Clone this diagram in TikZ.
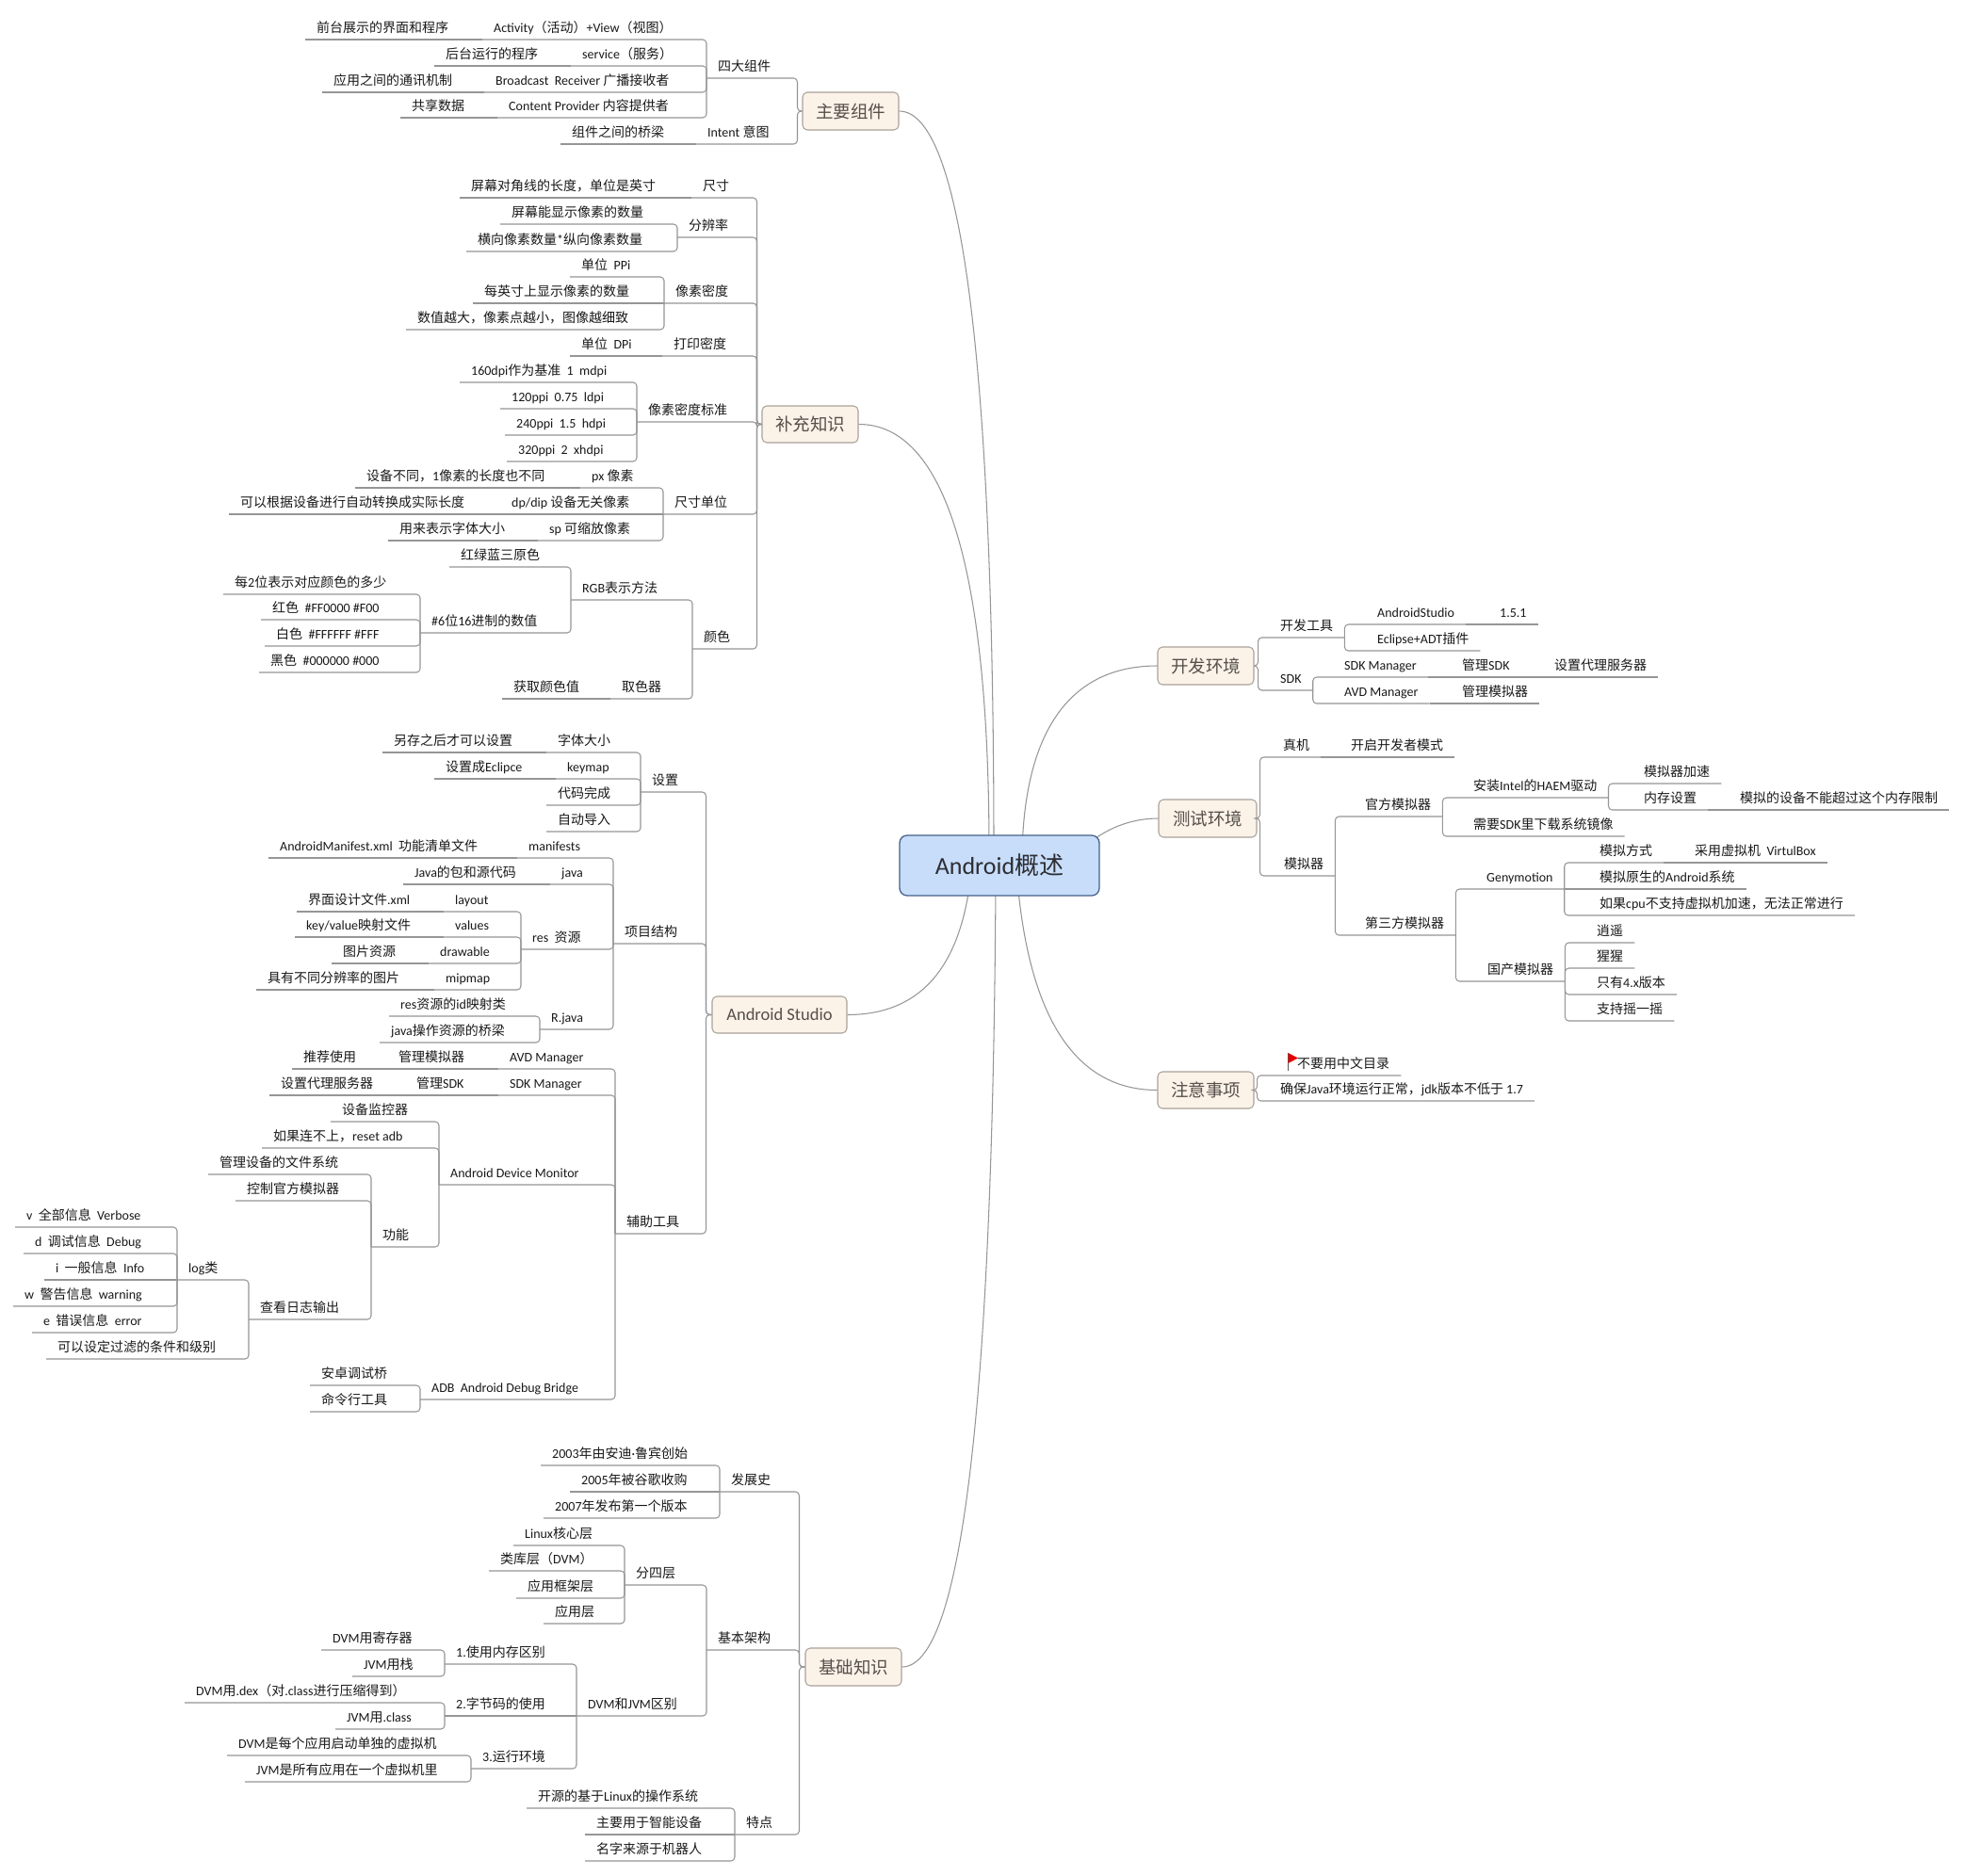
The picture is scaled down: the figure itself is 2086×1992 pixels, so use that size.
\documentclass[tikz,border=0pt]{standalone}
\usepackage{fontspec}
\setmainfont{Carlito}
\newfontfamily\cjkfont{Noto Sans CJK SC}
\newfontfamily\latfont{Carlito}
\newXeTeXintercharclass\CJKcls
\newcount\cjkcc
\def\cjkrange#1#2{\cjkcc=#1\relax\loop\XeTeXcharclass\cjkcc=\CJKcls\relax\advance\cjkcc by 1\relax\ifnum\cjkcc<#2\relax\repeat}
\cjkrange{"3000}{"3040}
\cjkrange{"4E00}{"A000}
\cjkrange{"FF00}{"FFF0}
\XeTeXinterchartoks 0 \CJKcls = {\cjkfont}
\XeTeXinterchartoks 4095 \CJKcls = {\cjkfont}
\XeTeXinterchartoks \CJKcls 0 = {\latfont}
\XeTeXinterchartoks \CJKcls 4095 = {\latfont}
\XeTeXinterchartokenstate=1
\definecolor{lncol}{RGB}{150,150,150}
\definecolor{txtcol}{RGB}{25,25,25}
\definecolor{boxfill}{RGB}{251,242,232}
\definecolor{boxdraw}{RGB}{170,162,155}
\definecolor{boxtxt}{RGB}{85,80,75}
\definecolor{cfill}{RGB}{199,221,250}
\definecolor{cdraw}{RGB}{70,97,137}
\definecolor{ctxt}{RGB}{45,45,50}
\newcommand\TN[4]{\node[tn] (#1) at (#2-12,#3) {#4};}
\newcommand\EL[2]{\draw[ln] (#1.south west) -- (#1.south west -| #2.south west) -- (#2.south west);}
\newcommand\ES[2]{\draw[ln] (#1.south west) -- (#2.south west);}
\newcommand\ELB[2]{\draw[ln] (#1.south west) -- (#1.south west -| #2vx) -- (#2vx |- #2.west) -- (#2.west);}
\newcommand\ER[2]{\draw[ln] (#2.south east) -- (#2.south east |- #1.south) -- (#1.south east);}
\newcommand\ERS[2]{\draw[ln] (#2.south east) -- (#1.south east);}
\newcommand\ERB[2]{\draw[ln] (#2.east) -- (#2vx |- #2.east) -- (#2vx |- #1.south) -- (#1.south east);}
\begin{document}
\begin{tikzpicture}[x=1pt,y=-1pt,
  ln/.style={draw=lncol, line width=1.05pt, rounded corners=4pt},
  cv/.style={draw=lncol, line width=1.05pt},
  tn/.style={anchor=south west, inner xsep=12pt, inner ysep=0pt, text height=11pt, text depth=7.5pt, font=\fontsize{14}{16}\selectfont, text=txtcol},
  mbox/.style={draw=boxdraw, fill=boxfill, rounded corners=5pt, line width=1.05pt, font=\fontsize{18.5}{22}\selectfont, text=boxtxt, inner sep=0pt}]
\useasboundingbox (0,0) rectangle (2086,1992);
\fill[white] (0,0) rectangle (2086,1992);

% ---------- main topics ----------
\node[mbox, minimum width=102pt, minimum height=40pt] (zy) at (903,118) {主要组件};
\node[mbox, minimum width=102pt, minimum height=39pt] (bc) at (860,450.5) {补充知识};
\node[mbox, minimum width=143pt, minimum height=39pt] (as) at (827.5,1077.5) {Android Studio};
\node[mbox, minimum width=102pt, minimum height=40pt] (jc) at (906,1770) {基础知识};
\node[mbox, minimum width=102pt, minimum height=40pt] (kf) at (1280,707) {开发环境};
\node[mbox, minimum width=104pt, minimum height=40pt] (cs) at (1282,869) {测试环境};
\node[mbox, minimum width=102pt, minimum height=39pt] (zy2) at (1280,1157.5) {注意事项};
\coordinate (zyvx) at ([xshift=-5pt]zy.west);
\coordinate (bcvx) at ([xshift=-5pt]bc.west);
\coordinate (asvx) at ([xshift=-6pt]as.west);
\coordinate (jcvx) at ([xshift=-6pt]jc.west);
\coordinate (kfvx) at ([xshift=4pt]kf.east);
\coordinate (csvx) at ([xshift=3pt]cs.east);
\coordinate (zy2vx) at ([xshift=3pt]zy2.east);

% ---------- curves to root ----------
\coordinate (rootc) at (1061,919);
\draw[cv] (zy.east) .. controls (1020,118) and (1055,380) .. ([shift={(-6,-14)}]rootc);
\draw[cv] (bc.east) .. controls (1003,450.5) and (1050,602) .. ([shift={(-11,-14)}]rootc);
\draw[cv] (kf.west) .. controls (1138,707) and (1088,773) .. ([shift={(24,-14)}]rootc);
\draw[cv] (cs.west) .. controls (1200,869) and (1173,880) .. ([shift={(89,-19)}]rootc);
\draw[cv] (zy2.west) .. controls (1143,1157.5) and (1093,1083) .. ([shift={(19,16)}]rootc);
\draw[cv] (as.east) .. controls (975,1077.5) and (1018,1030) .. ([shift={(-31,16)}]rootc);
\draw[cv] (jc.east) .. controls (1021,1770) and (1054,1492) .. ([shift={(-4,16)}]rootc);
\node[draw=cdraw, fill=cfill, rounded corners=8pt, line width=1.3pt, minimum width=212pt, minimum height=64pt, font=\fontsize{26}{30}\selectfont, text=ctxt] (root) at (rootc) {Android概述};

% ---------- 主要组件 ----------
\TN{sd}{762}{83}{四大组件}
\TN{a1}{524}{42}{Activity（活动）+View（视图）}
\TN{a2}{336}{42}{前台展示的界面和程序}
\TN{s1}{618}{70}{service（服务）}
\TN{s2}{473}{70}{后台运行的程序}
\TN{b1}{526}{98}{Broadcast\ \ Receiver 广播接收者}
\TN{b2}{354}{98}{应用之间的通讯机制}
\TN{c1}{540}{125}{Content Provider 内容提供者}
\TN{c2}{437}{125}{共享数据}
\TN{it}{751}{153}{Intent 意图}
\TN{i2}{607}{153}{组件之间的桥梁}
\ELB{sd}{zy} \ELB{it}{zy}
\EL{a1}{sd} \EL{s1}{sd} \EL{b1}{sd} \EL{c1}{sd}
\ES{a2}{a1} \ES{s2}{s1} \ES{b2}{b1} \ES{c2}{c1} \ES{i2}{it}

% ---------- 补充知识 ----------
\TN{k1}{746}{210}{尺寸}
\TN{k11}{500}{210}{屏幕对角线的长度，单位是英寸}
\TN{k2}{731}{252}{分辨率}
\TN{k21}{543}{238}{屏幕能显示像素的数量}
\TN{k22}{507}{267}{横向像素数量*纵向像素数量}
\TN{k3}{717}{322}{像素密度}
\TN{k31}{617}{294}{单位\ \ PPi}
\TN{k32}{514}{322}{每英寸上显示像素的数量}
\TN{k33}{443}{350}{数值越大，像素点越小，图像越细致}
\TN{k4}{715}{378}{打印密度}
\TN{k41}{617}{378}{单位\ \ DPi}
\TN{k5}{688}{448}{像素密度标准}
\TN{k51}{500}{406}{160dpi作为基准\ \ 1\ \ mdpi}
\TN{k52}{543}{434}{120ppi\ \ 0.75\ \ ldpi}
\TN{k53}{548}{462}{240ppi\ \ 1.5\ \ hdpi}
\TN{k54}{550}{490}{320ppi\ \ 2\ \ xhdpi}
\TN{k6}{716}{546}{尺寸单位}
\TN{k61}{628}{518}{px 像素}
\TN{k611}{389}{518}{设备不同，1像素的长度也不同}
\TN{k62}{543}{546}{dp/dip 设备无关像素}
\TN{k621}{255}{546}{可以根据设备进行自动转换成实际长度}
\TN{k63}{583}{574}{sp 可缩放像素}
\TN{k631}{424}{574}{用来表示字体大小}
\TN{k7}{747}{689}{颜色}
\TN{k71}{618}{637}{RGB表示方法}
\TN{k711}{489}{602}{红绿蓝三原色}
\TN{k712}{458}{672}{\#6位16进制的数值}
\TN{k7121}{249}{631}{每2位表示对应颜色的多少}
\TN{k7122}{289}{658}{红色\ \ \#FF0000 \#F00}
\TN{k7123}{293}{686}{白色\ \ \#FFFFFF \#FFF}
\TN{k7124}{287}{714}{黑色\ \ \#000000 \#000}
\TN{k72}{660}{742}{取色器}
\TN{k721}{545}{742}{获取颜色值}
\ELB{k1}{bc} \ELB{k2}{bc} \ELB{k3}{bc} \ELB{k4}{bc} \ELB{k5}{bc} \ELB{k6}{bc} \ELB{k7}{bc}
\ES{k11}{k1}
\EL{k21}{k2} \EL{k22}{k2}
\EL{k31}{k3} \ES{k32}{k3} \EL{k33}{k3}
\ES{k41}{k4}
\EL{k51}{k5} \EL{k52}{k5} \EL{k53}{k5} \EL{k54}{k5}
\EL{k61}{k6} \ES{k62}{k6} \EL{k63}{k6}
\ES{k611}{k61} \ES{k621}{k62} \ES{k631}{k63}
\EL{k71}{k7} \EL{k72}{k7}
\EL{k711}{k71} \EL{k712}{k71}
\EL{k7121}{k712} \EL{k7122}{k712} \EL{k7123}{k712} \EL{k7124}{k712}
\ES{k721}{k72}

% ---------- Android Studio ----------
\TN{t1}{692}{841}{设置}
\TN{t11}{592}{799}{字体大小}
\TN{t111}{418}{799}{另存之后才可以设置}
\TN{t12}{602}{827}{keymap}
\TN{t121}{473}{827}{设置成Eclipce}
\TN{t13}{592}{855}{代码完成}
\TN{t14}{592}{883}{自动导入}
\TN{t2}{663}{1002}{项目结构}
\TN{t21}{561}{911}{manifests}
\TN{t211}{297}{911}{AndroidManifest.xml\ \ 功能清单文件}
\TN{t22}{596}{939}{java}
\TN{t221}{440}{939}{Java的包和源代码}
\TN{t23}{565}{1008}{res\ \ 资源}
\TN{t231}{483}{968}{layout}
\TN{t2311}{327}{968}{界面设计文件.xml}
\TN{t232}{483}{995}{values}
\TN{t2321}{325}{995}{key/value映射文件}
\TN{t233}{467}{1023}{drawable}
\TN{t2331}{364}{1023}{图片资源}
\TN{t234}{473}{1051}{mipmap}
\TN{t2341}{284}{1051}{具有不同分辨率的图片}
\TN{t24}{585}{1093}{R.java}
\TN{t241}{425}{1079}{res资源的id映射类}
\TN{t242}{415}{1107}{java操作资源的桥梁}
\TN{t3}{665}{1310}{辅助工具}
\TN{t31}{541}{1135}{AVD Manager}
\TN{t311}{423}{1135}{管理模拟器}
\TN{t3111}{322}{1135}{推荐使用}
\TN{t32}{541}{1163}{SDK Manager}
\TN{t321}{442}{1163}{管理SDK}
\TN{t3211}{298}{1163}{设置代理服务器}
\TN{t33}{478}{1258}{Android Device Monitor}
\TN{t331}{363}{1191}{设备监控器}
\TN{t332}{290}{1219}{如果连不上，reset adb}
\TN{t333}{406}{1324}{功能}
\TN{t3331}{233}{1247}{管理设备的文件系统}
\TN{t3332}{262}{1275}{控制官方模拟器}
\TN{t3333}{276}{1401}{查看日志输出}
\TN{t33331}{200}{1359}{log类}
\TN{tv1}{28}{1303}{v\ \ 全部信息\ \ Verbose}
\TN{tv2}{37}{1331}{d\ \ 调试信息\ \ Debug}
\TN{tv3}{59}{1359}{i\ \ 一般信息\ \ Info}
\TN{tv4}{26}{1387}{w\ \ 警告信息\ \ warning}
\TN{tv5}{46}{1415}{e\ \ 错误信息\ \ error}
\TN{t33332}{61}{1443}{可以设定过滤的条件和级别}
\TN{t34}{458}{1486}{ADB\ \ Android Debug Bridge}
\TN{t341}{341}{1471}{安卓调试桥}
\TN{t342}{341}{1499}{命令行工具}
\ELB{t1}{as} \ELB{t2}{as} \ELB{t3}{as}
\EL{t11}{t1} \EL{t12}{t1} \EL{t13}{t1} \EL{t14}{t1}
\ES{t111}{t11} \ES{t121}{t12}
\EL{t21}{t2} \EL{t22}{t2} \EL{t23}{t2} \EL{t24}{t2}
\ES{t211}{t21} \ES{t221}{t22}
\EL{t231}{t23} \EL{t232}{t23} \EL{t233}{t23} \EL{t234}{t23}
\ES{t2311}{t231} \ES{t2321}{t232} \ES{t2331}{t233} \ES{t2341}{t234}
\EL{t241}{t24} \EL{t242}{t24}
\EL{t31}{t3} \EL{t32}{t3} \EL{t33}{t3} \EL{t34}{t3}
\ES{t311}{t31} \ES{t3111}{t311} \ES{t321}{t32} \ES{t3211}{t321}
\EL{t331}{t33} \EL{t332}{t33} \EL{t333}{t33}
\EL{t3331}{t333} \EL{t3332}{t333} \EL{t3333}{t333}
\EL{t33331}{t3333} \EL{t33332}{t3333}
\EL{tv1}{t33331} \EL{tv2}{t33331} \ES{tv3}{t33331} \EL{tv4}{t33331} \EL{tv5}{t33331}
\EL{t341}{t34} \EL{t342}{t34}

% ---------- 基础知识 ----------
\TN{j1}{776}{1584}{发展史}
\TN{j11}{586}{1556}{2003年由安迪·鲁宾创始}
\TN{j12}{617}{1584}{2005年被谷歌收购}
\TN{j13}{589}{1612}{2007年发布第一个版本}
\TN{j2}{762}{1752}{基本架构}
\TN{j21}{675}{1683}{分四层}
\TN{j211}{557}{1641}{Linux核心层}
\TN{j212}{531}{1668}{类库层（DVM）}
\TN{j213}{560}{1697}{应用框架层}
\TN{j214}{589}{1724}{应用层}
\TN{j22}{624}{1822}{DVM和JVM区别}
\TN{j221}{484}{1767}{1.使用内存区别}
\TN{j2211}{353}{1752}{DVM用寄存器}
\TN{j2212}{386}{1780}{JVM用栈}
\TN{j222}{484}{1822}{2.字节码的使用}
\TN{j2221}{208}{1808}{DVM用.dex（对.class进行压缩得到）}
\TN{j2222}{368}{1836}{JVM用.class}
\TN{j223}{512}{1878}{3.运行环境}
\TN{j2231}{253}{1864}{DVM是每个应用启动单独的虚拟机}
\TN{j2232}{272}{1892}{JVM是所有应用在一个虚拟机里}
\TN{j3}{792}{1948}{特点}
\TN{j31}{571}{1920}{开源的基于Linux的操作系统}
\TN{j32}{633}{1948}{主要用于智能设备}
\TN{j33}{633}{1976}{名字来源于机器人}
\ELB{j1}{jc} \ELB{j2}{jc} \ELB{j3}{jc}
\EL{j11}{j1} \ES{j12}{j1} \EL{j13}{j1}
\EL{j21}{j2} \EL{j22}{j2}
\EL{j211}{j21} \EL{j212}{j21} \EL{j213}{j21} \EL{j214}{j21}
\EL{j221}{j22} \ES{j222}{j22} \EL{j223}{j22}
\EL{j2211}{j221} \EL{j2212}{j221}
\EL{j2221}{j222} \EL{j2222}{j222}
\EL{j2231}{j223} \EL{j2232}{j223}
\EL{j31}{j3} \ES{j32}{j3} \EL{j33}{j3}

% ---------- 开发环境 ----------
\TN{r1}{1359}{677}{开发工具}
\TN{r11}{1462}{663}{AndroidStudio}
\TN{r111}{1592}{663}{1.5.1}
\TN{r12}{1462}{691}{Eclipse+ADT插件}
\TN{r2}{1359}{733}{SDK}
\TN{r21}{1427}{719}{SDK Manager}
\TN{r211}{1552}{719}{管理SDK}
\TN{r2111}{1650}{719}{设置代理服务器}
\TN{r22}{1427}{747}{AVD Manager}
\TN{r221}{1552}{747}{管理模拟器}
\ERB{r1}{kf} \ERB{r2}{kf}
\ER{r11}{r1} \ER{r12}{r1} \ERS{r111}{r11}
\ER{r21}{r2} \ER{r22}{r2} \ERS{r211}{r21} \ERS{r2111}{r211} \ERS{r221}{r22}

% ---------- 测试环境 ----------
\TN{u1}{1362}{804}{真机}
\TN{u11}{1434}{804}{开启开发者模式}
\TN{u2}{1363}{930}{模拟器}
\TN{u21}{1449}{867}{官方模拟器}
\TN{u211}{1564}{847}{安装Intel的HAEM驱动}
\TN{u2111}{1745}{832}{模拟器加速}
\TN{u2112}{1745}{860}{内存设置}
\TN{u21121}{1847}{860}{模拟的设备不能超过这个内存限制}
\TN{u212}{1564}{888}{需要SDK里下载系统镜像}
\TN{u22}{1449}{993}{第三方模拟器}
\TN{u221}{1578}{944}{Genymotion}
\TN{u2211}{1698}{916}{模拟方式}
\TN{u22111}{1799}{916}{采用虚拟机\ \ VirtulBox}
\TN{u2212}{1698}{944}{模拟原生的Android系统}
\TN{u2213}{1698}{972}{如果cpu不支持虚拟机加速，无法正常进行}
\TN{u222}{1579}{1042}{国产模拟器}
\TN{u2221}{1695}{1001}{逍遥}
\TN{u2222}{1695}{1028}{猩猩}
\TN{u2223}{1695}{1056}{只有4.x版本}
\TN{u2224}{1695}{1084}{支持摇一摇}
\ERB{u1}{cs} \ERB{u2}{cs}
\ERS{u11}{u1}
\ER{u21}{u2} \ER{u22}{u2}
\ER{u211}{u21} \ER{u212}{u21}
\ER{u2111}{u211} \ER{u2112}{u211} \ERS{u21121}{u2112}
\ER{u221}{u22} \ER{u222}{u22}
\ER{u2211}{u221} \ERS{u2212}{u221} \ER{u2213}{u221} \ERS{u22111}{u2211}
\ER{u2221}{u222} \ER{u2222}{u222} \ER{u2223}{u222} \ER{u2224}{u222}

% ---------- 注意事项 ----------
\TN{z1}{1377}{1142}{不要用中文目录}
\TN{z2}{1359}{1169}{确保Java环境运行正常，jdk版本不低于 1.7}
\ERB{z1}{zy2} \ERB{z2}{zy2}
\draw[gray!70!black, line width=1pt] ([shift={(2,-5)}]z1.south west) -- ([shift={(2,-24)}]z1.south west);
\fill[red!90!black] ([shift={(2.5,-24)}]z1.south west) -- ([shift={(13,-18.5)}]z1.south west) -- ([shift={(2.5,-13)}]z1.south west) -- cycle;
\end{tikzpicture}
\end{document}
